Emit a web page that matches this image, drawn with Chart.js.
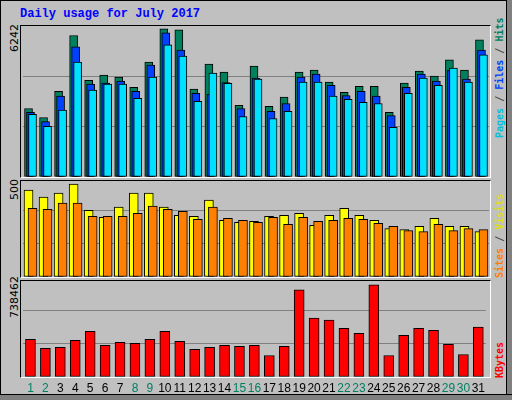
<!DOCTYPE html>
<html><head><meta charset="utf-8">
<script src="https://cdn.jsdelivr.net/npm/chart.js@4"></script>
<style>
body{margin:0;width:512px;height:400px;overflow:hidden;background:#c0c0c0;position:relative;font-family:"DejaVu Sans",sans-serif}
.abs{position:absolute}
.frame{position:absolute;border-top:1px solid #000;border-left:1px solid #000;border-right:1px solid #fff;border-bottom:1px solid #fff;box-sizing:border-box}
.rot{position:absolute;transform:rotate(-90deg);transform-origin:left top;white-space:nowrap;line-height:12px}
.mono{font:bold 10px "DejaVu Sans Mono",monospace}
</style></head>
<body>
<div class="abs" style="left:0;top:0;width:511px;height:399px;border:1px solid #000;border-right:none;border-bottom:none;box-sizing:border-box"></div>
<div class="abs" style="right:0;top:0;width:5px;height:400px;background:#808080;border-left:1px solid #000"></div>
<div class="abs" style="left:0;bottom:0;width:512px;height:5px;background:#808080;border-top:1px solid #000"></div>
<div class="abs" style="left:20px;top:7px;font:bold 12px 'Liberation Mono',monospace;color:#0000ff">Daily usage for July 2017</div>

<div class="frame" style="left:20px;top:25px;width:471px;height:153px"></div>
<div class="frame" style="left:20px;top:180px;width:471px;height:98px"></div>
<div class="frame" style="left:20px;top:280px;width:471px;height:98px"></div>

<div class="abs" style="left:23px;top:26px;width:466px;height:151px"><canvas id="c1"></canvas></div>
<div class="abs" style="left:23px;top:177px;width:466px;height:100px"><canvas id="c2"></canvas></div>
<div class="abs" style="left:23px;top:277px;width:466px;height:120px"><canvas id="c3"></canvas></div>

<div class="rot" style="left:9px;top:52px;font-size:11px">6242</div>
<div class="rot" style="left:9px;top:200px;font-size:11px">500</div>
<div class="rot" style="left:9px;top:318px;font-size:11px">738462</div>

<div class="rot mono" style="left:494px;top:138px"><span style="color:#00c0e0">Pages</span> <span style="color:#404040">/</span> <span style="color:#0040ff">Files</span> <span style="color:#404040">/</span> <span style="color:#00805c">Hits</span></div>
<div class="rot mono" style="left:494px;top:278px"><span style="color:#ff8000">Sites</span> <span style="color:#404040">/</span> <span style="color:#e0e000">Visits</span></div>
<div class="rot mono" style="left:494px;top:378px"><span style="color:#ff0000">KBytes</span></div>

<script>
// === DATA ===
const DAYS = Array.from({length:31}, (_, i) => String(i + 1));
const WEEKEND = ['1','2','8','9','15','16','22','23','29','30'];

const HITS  = [2830,2460,3540,5850,4000,4210,4130,3710,4750,6130,6080,3630,4670,4340,2960,4590,2920,3300,4340,4420,3920,3500,3750,3750,2670,3880,4380,4170,4840,4420,5670];
const FILES = [2670,2290,3340,5380,3840,3880,3960,3540,4630,5960,5250,3460,3420,3900,2830,4090,2710,3040,4130,4250,3790,3370,3540,3340,2540,3710,4250,3960,4420,4050,5250];
const PAGES = [2590,2090,2770,4750,3590,3840,3840,3250,4130,5460,5000,3130,4300,3870,2500,4050,2420,2710,3920,3920,3340,3210,3090,3040,2050,3460,4090,3790,4500,3920,5050];

const VISITS = [434,399,419,465,333,298,349,419,419,349,308,303,384,283,273,278,303,308,318,258,308,343,308,283,242,237,253,293,253,253,227];
const SITES  = [343,338,369,369,303,303,303,318,354,338,328,288,349,293,283,273,298,263,298,278,283,293,288,268,253,232,227,263,232,242,237];

const KBYTES = [278000,211000,219000,271000,338000,234000,256000,249000,278000,338000,263000,204000,219000,234000,226000,234000,159000,226000,644000,435000,420000,360000,323000,681000,159000,308000,360000,345000,241000,166000,368000];

const MAX_HITS = 6242, MAX_VISITS = 500, MAX_KB = 738462;

// === helpers ===
const shiftPlugin = {
  id: 'shift',
  afterDatasetsUpdate(chart){
    chart.data.datasets.forEach((ds, i) => {
      const dx = ds.shift || 0;
      chart.getDatasetMeta(i).data.forEach(b => { b.x += dx; });
    });
  }
};

function bar(data, color, w, shift){
  return { data, backgroundColor: color, borderColor: '#000', borderWidth: 1,
           borderSkipped: false, barThickness: w, grouped: false, shift };
}

function makeChart(id, datasets, max, showX){
  const x = {
    display: showX,
    grid: { display: false, drawTicks: false }, border: { display: false },
    ticks: {
      padding: 4, autoSkip: false, maxRotation: 0,
      font: { family: 'Liberation Sans', size: 12 },
      color: c => WEEKEND.includes(DAYS[c.index]) ? '#008060' : '#000'
    }
  };
  if (showX) x.afterFit = s => { s.height = 20; };
  return new Chart(document.getElementById(id), {
    type: 'bar',
    data: { labels: DAYS, datasets },
    options: {
      responsive: true, maintainAspectRatio: false, animation: false,
      layout: { padding: 0 },
      plugins: { legend: { display: false }, tooltip: { enabled: false } },
      scales: {
        x,
        y: {
          display: true, min: 0, max,
          afterBuildTicks(s){ s.ticks = [0,1,2,3].map(k => ({ value: max * k / 3 })); },
          ticks: { display: false },
          border: { display: false },
          grid: { drawTicks: false, color: c => (c.index === 1 || c.index === 2) ? '#808080' : 'rgba(0,0,0,0)' },
          afterFit(s){ s.width = 0; }
        }
      }
    },
    plugins: [shiftPlugin]
  });
}

// index 0 is drawn on top
makeChart('c1', [
  bar(PAGES, '#00e0ff', 8, 2),
  bar(FILES, '#0040ff', 8, 0),
  bar(HITS,  '#00805c', 8, -2)
], MAX_HITS, false);

makeChart('c2', [
  bar(SITES,  '#ff8000', 9, 2),
  bar(VISITS, '#ffff00', 9, -2)
], MAX_VISITS, false);

makeChart('c3', [
  bar(KBYTES, '#ff0000', 10, 0)
], MAX_KB, true);
</script>
</body></html>
